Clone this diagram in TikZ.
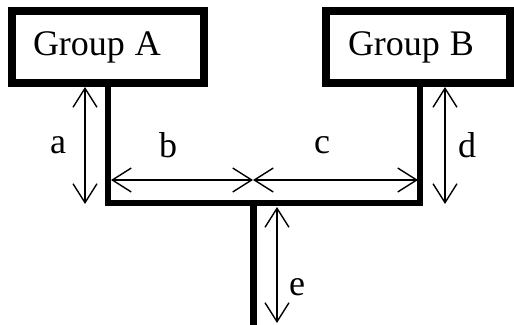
\documentclass[tikz,border=0pt]{standalone}
\usepackage{fontspec}
\setmainfont{Liberation Serif}
\usepackage{tikz}
\usetikzlibrary{
  arrows.meta,
  positioning,
  calc,
}
\tikzset{
  every node/.append style={font=\fontsize{36}{42}\selectfont},
  groupbox/.style={
    draw=black,
    line width=7.5pt,
    minimum height=72pt,
    align=left,
    anchor=center,
  },
  wire/.style={line width=6pt, line join=miter, line cap=rect},
  barb/.tip={Straight Barb[length=19pt,width=24pt,line width=1.4pt]},
  dim/.style={
    line width=1.3pt,
    {barb}-{barb},
  },
  dimlabel/.style={inner sep=0pt},
}

\begin{document}
\begin{tikzpicture}[x=1pt,y=-1pt]
  \useasboundingbox (0,0) rectangle (514,324);

  % groups
  \node[groupbox, minimum width=192pt, text width=150pt, inner xsep=21pt] (grpA) at (108,47) {Group\hspace{-2pt} A};
  \node[groupbox, minimum width=184pt, text width=140pt, inner xsep=22pt] (grpB) at (418,47) {Group\hspace{-2pt} B};

  % wiring
  \coordinate (hub) at (253,202.5);
  \coordinate (stemend) at (253,326);
  \draw[wire] (grpA.south) |- (hub) -| ($(grpB.south)+(2,0)$);
  \draw[wire, line cap=butt, line width=7pt] (hub) -- (stemend);

  % dimensions
  \coordinate (aTop) at (85,87);
  \coordinate (aBot) at (85,204);
  \coordinate (bL) at (111,180);
  \coordinate (bR) at (253,180);
  \coordinate (cR) at (418,180);
  \coordinate (dTop) at (445,87);
  \coordinate (dBot) at (445,204);
  \coordinate (eTop) at (277,207);
  \coordinate (eBot) at (277,323);
  \draw[dim] (aTop) -- (aBot);
  \draw[dim] (bL) -- (bR);
  \draw[dim] (bR) -- (cR);
  \draw[dim] (dTop) -- (dBot);
  \draw[dim] (eTop) -- (eBot);

  \node[dimlabel] (la) at (58,145) {a};
  \node[dimlabel] (lb) at (168,145) {b};
  \node[dimlabel] (lc) at (322,145) {c};
  \node[dimlabel] (ld) at (467,145) {d};
  \node[dimlabel] (le) at (297,287) {e};
\end{tikzpicture}
\end{document}
